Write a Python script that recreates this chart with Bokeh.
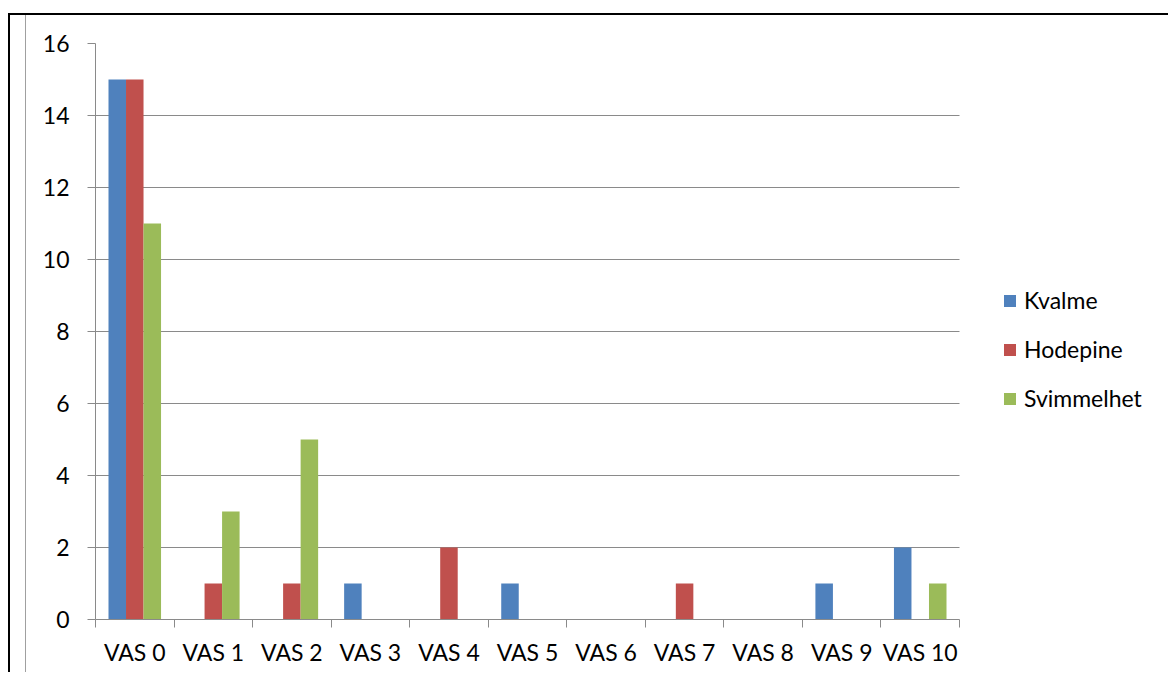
from bokeh.plotting import figure
from bokeh.models import FixedTicker, Legend, LegendItem, Range1d, Spacer
from bokeh.layouts import row
from bokeh.embed import file_html
from bokeh.resources import INLINE

categories = ["VAS 0", "VAS 1", "VAS 2", "VAS 3", "VAS 4", "VAS 5",
              "VAS 6", "VAS 7", "VAS 8", "VAS 9", "VAS 10"]
kvalme = [15, 0, 0, 1, 0, 1, 0, 0, 0, 1, 2]
hodepine = [15, 1, 1, 0, 2, 0, 0, 1, 0, 0, 0]
svimmelhet = [11, 3, 5, 0, 0, 0, 0, 0, 0, 0, 1]
series_names = ["Kvalme", "Hodepine", "Svimmelhet"]
colors = ["#4F81BD", "#C0504D", "#9BBB59"]
y_ticks = [0, 2, 4, 6, 8, 10, 12, 14, 16]

FONT = "Lato"
GRAY = "#8a8a8a"

n = len(categories)
idx = list(range(n))

CANVAS_W = 1142
LEFT = 69
PLOT_W = 864          # width of the category area in px
FRAME_W = CANVAS_W - LEFT
x_end = -0.5 + n * FRAME_W / PLOT_W

p = figure(width=CANVAS_W, height=657, output_backend="svg", toolbar_location=None,
           x_range=Range1d(-0.5, x_end), y_range=Range1d(0, 16),
           min_border_left=LEFT, min_border_right=0, min_border_top=28,
           min_border_bottom=53)
p.outline_line_color = None
p.background_fill_color = "white"
p.border_fill_color = "white"

bar_w = 0.223
renderers = []
for k, (vals, col) in enumerate(zip([kvalme, hodepine, svimmelhet], colors)):
    xs = [i + (k - 1) * bar_w for i in idx]
    r = p.vbar(x=xs, top=vals, bottom=0, width=bar_w, fill_color=col, line_color=None)
    renderers.append(r)

# axes / grid
p.xgrid.visible = False
p.ygrid.grid_line_color = GRAY
p.ygrid.grid_line_width = 1
p.ygrid.ticker = FixedTicker(ticks=y_ticks)
p.ygrid.cross_bounds = (-0.5, n - 0.5)

p.yaxis.ticker = FixedTicker(ticks=y_ticks)
p.yaxis.axis_line_color = GRAY
p.yaxis.major_tick_line_color = GRAY
p.yaxis.major_tick_in = 0
p.yaxis.major_tick_out = 8
p.yaxis.minor_tick_line_color = None
p.yaxis.major_label_standoff = 18
p.yaxis.major_label_text_font = FONT
p.yaxis.major_label_text_font_size = "23px"
p.yaxis.major_label_text_color = "black"

p.xaxis.bounds = (-0.5, n - 0.5)
p.xaxis.ticker = FixedTicker(ticks=idx, minor_ticks=[i - 0.5 for i in range(n + 1)])
p.xaxis.major_label_overrides = {i: c for i, c in enumerate(categories)}
p.xaxis.axis_line_color = GRAY
p.xaxis.major_tick_line_color = None
p.xaxis.major_tick_in = 0
p.xaxis.major_tick_out = 8
p.xaxis.minor_tick_line_color = GRAY
p.xaxis.minor_tick_in = 0
p.xaxis.minor_tick_out = 8
p.xaxis.major_label_standoff = 10
p.xaxis.major_label_text_font = FONT
p.xaxis.major_label_text_font_size = "23px"
p.xaxis.major_label_text_color = "black"

legend = Legend(items=[LegendItem(label=nm, renderers=[r]) for nm, r in zip(series_names, renderers)],
                location=(907, 207))
legend.border_line_color = None
legend.background_fill_alpha = 0
legend.padding = 0
legend.margin = 0
legend.glyph_width = 15
legend.glyph_height = 15
legend.label_standoff = 7
legend.label_height = 24
legend.spacing = 21
legend.label_text_font = FONT
legend.label_text_font_size = "23px"
legend.label_text_color = "black"
p.add_layout(legend, "center")

sp = Spacer(width=16, height=657, styles={"border-right": "1px solid #a0a0a0"})
layout = row(sp, p, styles={"border-left": "2px solid black", "border-top": "2px solid black",
                            "margin-top": "13px", "margin-left": "8px"})

open("out.html", "w").write(file_html(layout, INLINE))
